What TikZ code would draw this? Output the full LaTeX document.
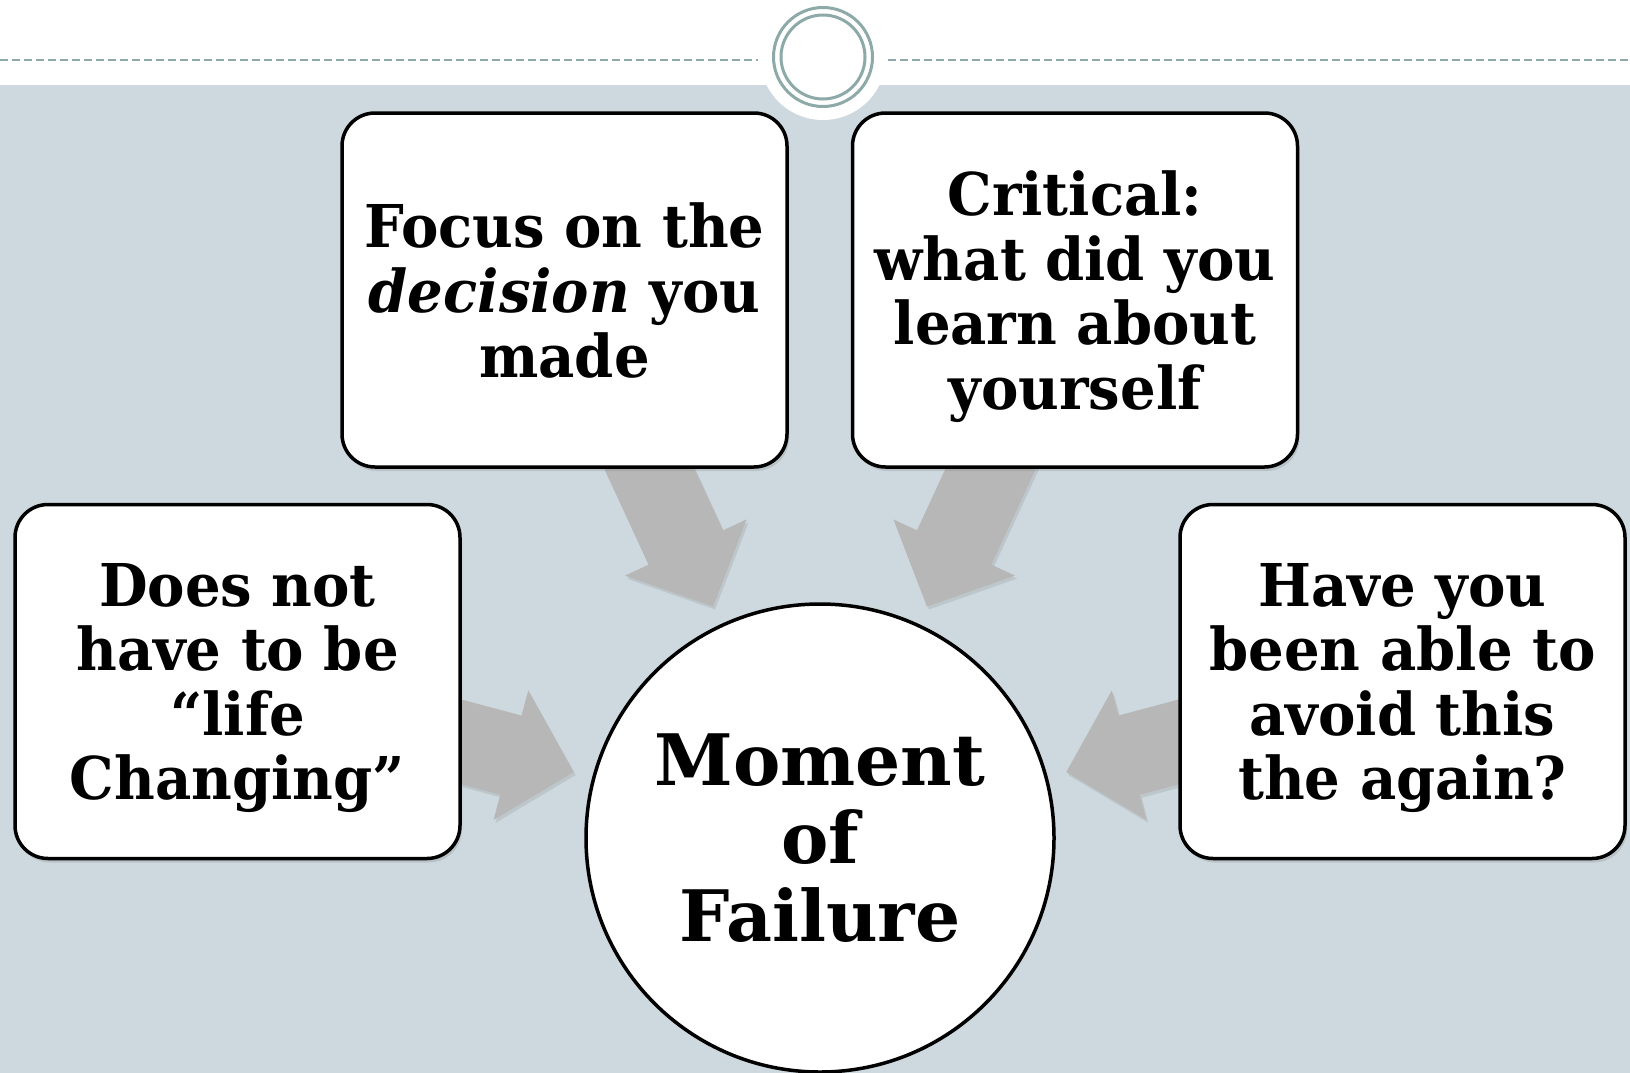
\documentclass[tikz,border=0pt]{standalone}
\usepackage{fontspec}
\newfontfamily\geo{DejaVu Serif}[FakeStretch=0.95]
\newfontfamily\geohub{DejaVu Serif}
\usetikzlibrary{calc,shadows}
\definecolor{bgc}{RGB}{205,217,222}
\definecolor{emb}{RGB}{141,170,169}
\definecolor{arr}{RGB}{183,183,183}
\tikzset{
  box/.style={draw=black, line width=3.5pt, fill=white, rounded corners=33pt,
    minimum width=445pt, minimum height=354pt, inner sep=0pt, align=center,
    text depth=0pt,
    font=\geo\bfseries\fontsize{59}{64.6}\selectfont,
    drop shadow={opacity=0.25, shadow xshift=2pt, shadow yshift=-4pt}},
  hub/.style={circle, draw=black, line width=3.5pt, fill=white, minimum size=468pt,
    inner sep=0pt, align=center, font=\geohub\bfseries\fontsize{71}{78}\selectfont},
  blockarrow/.style={fill=arr, drop shadow={opacity=0.2, shadow xshift=2pt, shadow yshift=-3pt}},
  dashline/.style={draw=emb, line width=1.5pt, dash pattern=on 8pt off 4pt},
  ring/.style={circle, draw=emb, line width=3pt, inner sep=0pt},
}
\newcommand\blockarr[3]{%
  \coordinate (#1h) at ($(#3)!65pt!(#2)$);
  \fill[blockarrow] ($(#2)!41pt!90:(#3)$) -- ($(#1h)!41pt!90:(#3)$) -- ($(#1h)!67pt!90:(#3)$)
    -- (#3) -- ($(#1h)!67pt!-90:(#3)$) -- ($(#1h)!41pt!-90:(#3)$) -- ($(#2)!41pt!-90:(#3)$) -- cycle;
}
\begin{document}
\begin{tikzpicture}[x=1pt,y=-1pt]
\path[use as bounding box] (0,0) rectangle (1630,1073);
\fill[white] (0,0) rectangle (1630,1073);
\fill[bgc] (0,85) rectangle (1630,1073);
% header
\draw[dashline] (0,60) -- (758,60);
\draw[dashline] (888,60) -- (1630,60);
\node[circle, fill=white, minimum size=126pt, inner sep=0pt] (cut) at (823,57) {};
\node[ring, minimum size=99pt] (outer) at (cut.center) {};
\node[ring, minimum size=84pt] (inner) at (cut.center) {};
% hub
\coordinate (c) at (820,838);
% arrows
\coordinate (tlS) at ($(c)+(245.2:450)$);
\coordinate (tlT) at ($(c)+(245.2:255)$);
\coordinate (trS) at ($(c)+(294.8:450)$);
\coordinate (trT) at ($(c)+(294.8:255)$);
\coordinate (lS) at ($(c)+(195:420)$);
\coordinate (lT) at ($(c)+(195:255)$);
\coordinate (rS) at ($(c)+(345:420)$);
\coordinate (rT) at ($(c)+(345:255)$);
\blockarr{tl}{tlS}{tlT}
\blockarr{tr}{trS}{trT}
\blockarr{l}{lS}{lT}
\blockarr{r}{rS}{rT}
% boxes
\node[box] (tl) at (564.5,290) {Focus on the\\\textit{decision} you\\made};
\node[box] (tr) at (1075,290) {Critical:\\what did you\\learn about\\yourself};
\node[box] (l) at (237.5,681.5) {Does not\\have to be\\“life\\Changing”};
\node[box] (r) at (1402.5,681.5) {Have you\\been able to\\avoid this\\the again?};
\node[hub] (hub) at (c) {Moment\\of\\Failure};
\end{tikzpicture}
\end{document}
